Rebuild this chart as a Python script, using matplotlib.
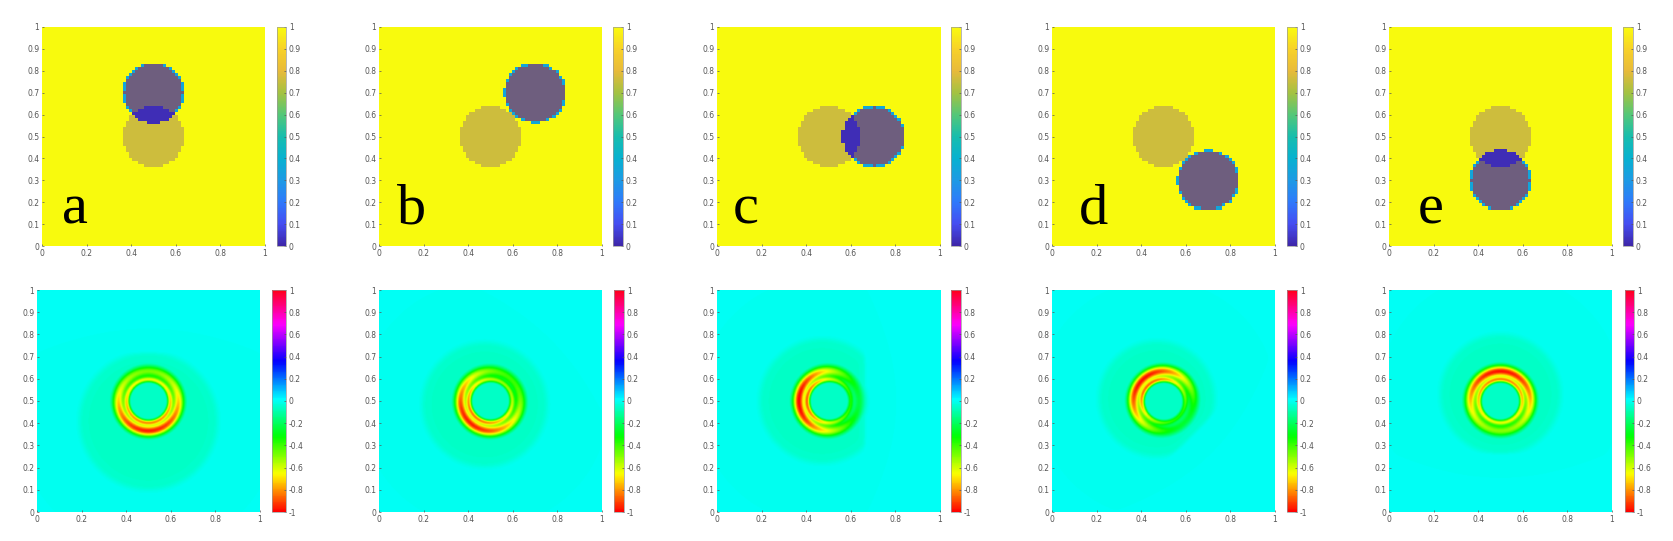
import numpy as np
import matplotlib
matplotlib.use('Agg')
import matplotlib.pyplot as plt
from matplotlib.colors import LinearSegmentedColormap

plt.rcParams['axes.unicode_minus'] = False

# ---------------- data ----------------
panel_labels = ['a', 'b', 'c', 'd', 'e']
label_x = [0.09, 0.08, 0.07, 0.12, 0.13]
label_y = [0.105, 0.105, 0.105, 0.105, 0.105]

# top row: level-set style indicator fields
circle_radius = 0.14
fixed_cx, fixed_cy = 0.5, 0.5
moving_cx = [0.5, 0.7, 0.7, 0.7, 0.5]
moving_cy = [0.7, 0.7, 0.5, 0.3, 0.3]
background_value = 1.0
fixed_value = 0.76
overlap_value = 0.02
rim_value = 0.35
moving_alpha = 0.74

# bottom row: ring-shaped response fields
strong_angle_deg = [270, 225, 180, 135, 90]
outer_amp_mean = [0.72, 0.68, 0.62, 0.62, 0.74]
outer_amp_var = [0.24, 0.28, 0.38, 0.36, 0.24]
inner_amp_mean = [0.62, 0.58, 0.52, 0.52, 0.62]
inner_amp_var = [0.06, 0.12, 0.20, 0.20, 0.06]
outer_ring_r, outer_ring_w = 0.134, 0.026
inner_ring_r, inner_ring_w = 0.097, 0.012
halo_cx = [0.50, 0.474, 0.47, 0.47, 0.50]
halo_cy = [0.41, 0.484, 0.50, 0.51, 0.53]
halo_r = [0.31, 0.28, 0.28, 0.26, 0.27]
halo_cut = [0.22, 0.30, 0.16, 0.20, 0.24]
halo_value = -0.055

top_cbar_ticks = [0, 0.1, 0.2, 0.3, 0.4, 0.5, 0.6, 0.7, 0.8, 0.9, 1]
top_cbar_labels = ['0', '0.1', '0.2', '0.3', '0.4', '0.5', '0.6', '0.7', '0.8', '0.9', '1']
bot_cbar_ticks = [-1, -0.8, -0.6, -0.4, -0.2, 0, 0.2, 0.4, 0.6, 0.8, 1]
bot_cbar_labels = ['-1', '-0.8', '-0.6', '-0.4', '-0.2', '0', '0.2', '0.4', '0.6', '0.8', '1']
xticks = [0, 0.2, 0.4, 0.6, 0.8, 1]
xtick_labels = ['0', '0.2', '0.4', '0.6', '0.8', '1']
yticks = [0, 0.1, 0.2, 0.3, 0.4, 0.5, 0.6, 0.7, 0.8, 0.9, 1]
ytick_labels = ['0', '0.1', '0.2', '0.3', '0.4', '0.5', '0.6', '0.7', '0.8', '0.9', '1']

# ---------------- colormaps ----------------
parula_pts = [
    (0.00, (0.2422, 0.1504, 0.6603)),
    (0.10, (0.2717, 0.3020, 0.9460)),
    (0.20, (0.1850, 0.4750, 0.9850)),
    (0.30, (0.1150, 0.6050, 0.8950)),
    (0.40, (0.0300, 0.6950, 0.8150)),
    (0.50, (0.0900, 0.7420, 0.6800)),
    (0.60, (0.3300, 0.7800, 0.4700)),
    (0.70, (0.6400, 0.7600, 0.2600)),
    (0.80, (0.9100, 0.7300, 0.2300)),
    (0.90, (0.9700, 0.8200, 0.1600)),
    (1.00, (0.9763, 0.9831, 0.0538)),
]
parula = LinearSegmentedColormap.from_list('parula_like', parula_pts, N=256)
hsv = plt.get_cmap('hsv')

# ---------------- layout (pixels in a 1673x541 canvas) ----------------
W, H = 1673, 541
top_ax_x = [42, 379, 717, 1052, 1389]
bot_ax_x = [37, 379, 717, 1052, 1389]
ax_w = 223
top_cb_x = [277, 613, 951, 1287, 1623]
top_cb_w = [9, 10, 10, 10, 10]
bot_cb_x = [272, 614, 951, 1287, 1625]
bot_cb_w = [14, 10, 10, 10, 9]
top_y0, top_y1 = 27, 246
bot_y0, bot_y1 = 290, 512


def rect(x, y0, w, y1):
    return [x / W, (H - y1) / H, w / W, (y1 - y0) / H]


fig = plt.figure(figsize=(W / 100, H / 100), dpi=100)

tick_col = '#555555'
lab_fs = 5.5


def style_axes(ax):
    ax.set_xlim(0, 1)
    ax.set_ylim(0, 1)
    ax.set_xticks(xticks)
    ax.set_xticklabels(xtick_labels)
    ax.set_yticks(yticks)
    ax.set_yticklabels(ytick_labels)
    ax.tick_params(direction='in', length=1.5, width=0.5, colors=tick_col,
                   labelsize=lab_fs, pad=2)
    for s in ax.spines.values():
        s.set_visible(False)


def style_cbar(cb, ticks, labels):
    cb.set_ticks(ticks)
    cb.set_ticklabels(labels)
    cb.ax.tick_params(direction='in', length=1.5, width=0.5, colors=tick_col,
                      labelsize=lab_fs, pad=2)
    cb.outline.set_linewidth(0.5)
    cb.outline.set_edgecolor('#999999')


# ---------------- top row ----------------
N = 72
c = (np.arange(N) + 0.5) / N
X, Y = np.meshgrid(c, c)
d_fixed = np.hypot(X - fixed_cx, Y - fixed_cy)
in_fixed = d_fixed < circle_radius

for i in range(5):
    d_mov = np.hypot(X - moving_cx[i], Y - moving_cy[i])
    in_mov = d_mov < circle_radius
    interior = d_mov < circle_radius - 0.008
    base = np.full((N, N), background_value)
    base[in_fixed] = fixed_value
    rim = in_mov & ~interior & ~in_fixed
    base[rim] = rim_value
    base[in_mov & in_fixed] = overlap_value

    ax = fig.add_axes(rect(top_ax_x[i], top_y0, ax_w, top_y1))
    im = ax.imshow(base, cmap=parula, vmin=0, vmax=1, origin='lower',
                   extent=[0, 1, 0, 1], aspect='auto', interpolation='nearest')
    overlay = np.ma.masked_where(~(interior & ~in_fixed), np.zeros((N, N)))
    ax.imshow(overlay, cmap=parula, vmin=0, vmax=1, origin='lower',
              extent=[0, 1, 0, 1], aspect='auto', interpolation='nearest',
              alpha=moving_alpha)
    style_axes(ax)
    ax.text(label_x[i], label_y[i], panel_labels[i], fontsize=42,
            family='Liberation Serif', color='black', ha='left', va='baseline')

    cax = fig.add_axes(rect(top_cb_x[i], top_y0, top_cb_w[i], top_y1))
    cb = fig.colorbar(im, cax=cax)
    style_cbar(cb, top_cbar_ticks, top_cbar_labels)

# ---------------- bottom row ----------------
M = 300
cm_ = (np.arange(M) + 0.5) / M
XX, YY = np.meshgrid(cm_, cm_)
R = np.hypot(XX - 0.5, YY - 0.5)
TH = np.arctan2(YY - 0.5, XX - 0.5)

for i in range(5):
    ts = np.deg2rad(strong_angle_deg[i])
    cosd = np.cos(TH - ts)
    a_out = outer_amp_mean[i] + outer_amp_var[i] * cosd
    a_in = inner_amp_mean[i] + inner_amp_var[i] * cosd
    ring = -(a_out * np.exp(-((R - outer_ring_r) / outer_ring_w) ** 2)
             + a_in * np.exp(-((R - inner_ring_r) / inner_ring_w) ** 2))
    # halo
    dh = np.hypot(XX - halo_cx[i], YY - halo_cy[i])
    mdir = ts + np.pi
    proj = (XX - 0.5) * np.cos(mdir) + (YY - 0.5) * np.sin(mdir)
    w_disk = 1 / (1 + np.exp((dh - halo_r[i]) / 0.008))
    w_cut = 1 / (1 + np.exp((proj - halo_cut[i]) / 0.005))
    halo = halo_value * w_disk * w_cut
    field = np.clip(np.minimum(ring, halo), -1, 1)

    ax = fig.add_axes(rect(bot_ax_x[i], bot_y0, ax_w, bot_y1))
    im = ax.imshow(field, cmap=hsv, vmin=-1, vmax=1, origin='lower',
                   extent=[0, 1, 0, 1], aspect='auto', interpolation='bilinear')
    style_axes(ax)

    cax = fig.add_axes(rect(bot_cb_x[i], bot_y0, bot_cb_w[i], bot_y1))
    cb = fig.colorbar(im, cax=cax)
    style_cbar(cb, bot_cbar_ticks, bot_cbar_labels)

fig.savefig('out.png', dpi=100, facecolor='white')
